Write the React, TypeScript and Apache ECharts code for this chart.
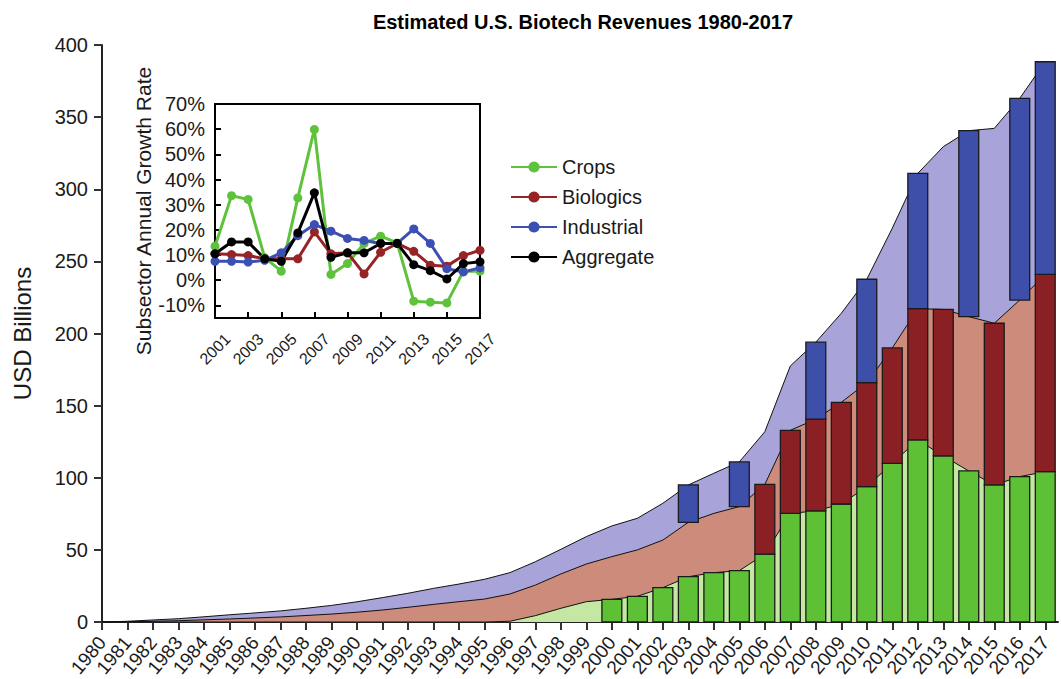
import React, { useEffect, useRef } from "react";
import * as echarts from "echarts";

// ---- Main chart data (USD billions) ----
const years = [
  1980, 1981, 1982, 1983, 1984, 1985, 1986, 1987, 1988, 1989,
  1990, 1991, 1992, 1993, 1994, 1995, 1996, 1997, 1998, 1999,
  2000, 2001, 2002, 2003, 2004, 2005, 2006, 2007, 2008, 2009,
  2010, 2011, 2012, 2013, 2014, 2015, 2016, 2017,
];
const cropsRevenue = [
  0, 0, 0, 0, 0, 0, 0, 0, 0, 0,
  0, 0, 0, 0, 0, 0, 0.5, 4.4, 9.5, 14.1,
  15.7, 17.8, 23.8, 31.4, 34.2, 35.6, 47.1, 75.3, 77.0, 81.8,
  93.8, 110.0, 126.2, 115.1, 104.7, 95.0, 100.8, 104.2,
];
const biologicsRevenue = [
  0, 0.2, 0.5, 0.9, 1.5, 2.1, 2.8, 3.5, 4.5, 5.5,
  6.8, 8.3, 10.2, 12.2, 14.1, 15.9, 18.9, 21.2, 23.8, 26.1,
  29.6, 32.2, 33.0, 37.7, 41.1, 44.4, 48.3, 57.6, 63.6, 70.5,
  72.1, 80.0, 91.0, 101.6, 107.0, 112.1, 122.4, 136.8,
];
const industrialRevenue = [
  0, 0.3, 0.9, 1.4, 2.1, 2.9, 3.5, 4.2, 5.0, 6.0,
  7.2, 8.6, 9.7, 11.1, 12.2, 13.7, 14.8, 16.2, 17.1, 19.0,
  21.3, 21.9, 25.5, 25.9, 27.8, 31.0, 36.5, 44.6, 53.4, 61.7,
  71.7, 83.0, 93.8, 112.8, 128.9, 135.1, 139.8, 147.4,
];
// years with reported (bar) values per subsector
const cropsBarYears = [
  2000, 2001, 2002, 2003, 2004, 2005, 2006, 2007, 2008,
  2009, 2010, 2011, 2012, 2013, 2014, 2015, 2016, 2017,
];
const biologicsBarYears = [2006, 2007, 2008, 2009, 2010, 2011, 2012, 2013, 2015, 2017];
const industrialBarYears = [2003, 2005, 2008, 2010, 2012, 2014, 2016, 2017];
const yTicks = [0, 50, 100, 150, 200, 250, 300, 350, 400];

// ---- Inset data (annual growth rate, %) ----
const growthYears = [
  2001, 2002, 2003, 2004, 2005, 2006, 2007, 2008, 2009,
  2010, 2011, 2012, 2013, 2014, 2015, 2016, 2017,
];
const cropsGrowth = [13.5, 33.6, 32.1, 9.0, 3.6, 32.7, 59.9, 2.3, 6.6, 14.6, 17.5, 14.8, -8.3, -8.7, -9.0, 3.6, 3.6];
const biologicsGrowth = [10.5, 10.2, 9.8, 8.5, 8.5, 8.5, 19.2, 10.5, 10.9, 2.5, 11.1, 14.6, 11.5, 6.0, 5.6, 9.8, 11.9];
const industrialGrowth = [7.5, 7.5, 7.2, 7.9, 10.9, 17.7, 22.1, 19.5, 16.6, 15.8, 14.6, 14.6, 20.4, 14.6, 4.6, 3.3, 4.9];
const aggregateGrowth = [10.5, 15.2, 15.2, 8.5, 7.5, 18.8, 34.7, 9.1, 10.9, 10.9, 14.6, 14.6, 6.2, 3.8, 0.5, 6.6, 7.3];
const insetYTicks = [-10, 0, 10, 20, 30, 40, 50, 60, 70];
const insetXTicks = [2001, 2003, 2005, 2007, 2009, 2011, 2013, 2015, 2017];

const FONT = "'Liberation Sans', Arial, Helvetica, sans-serif";
const TXT = "#1a1a1a";

export default function App() {
  const ref = useRef<HTMLDivElement>(null);

  useEffect(() => {
    if (!ref.current) return;
    const chart = echarts.init(ref.current, null, { renderer: "svg" });

    const cropsCum = cropsRevenue.slice();
    const bioCum = cropsRevenue.map((c, i) => c + biologicsRevenue[i]);
    const totCum = bioCum.map((b, i) => b + industrialRevenue[i]);
    const idx = (y: number) => years.indexOf(y);

    const areaSeries = (name: string, cum: number[], color: string) => ({
      name,
      type: "line",
      xAxisIndex: 0,
      yAxisIndex: 0,
      data: years.map((y, i) => [y, cum[i]]),
      symbol: "none",
      lineStyle: { color: "#111", width: 1 },
      areaStyle: { color, opacity: 1 },
      z: 2,
      silent: true,
    });

    const barSeries = (name: string, data: number[][], color: string) => ({
      name,
      type: "custom",
      xAxisIndex: 0,
      yAxisIndex: 0,
      data,
      encode: { x: 0, y: [1, 2] },
      z: 3,
      renderItem: (params: any, api: any) => {
        const x = api.value(0);
        const lo = api.value(1);
        const hi = api.value(2);
        const top = api.coord([x, hi]);
        const bot = api.coord([x, lo]);
        const w = api.size([1, 0])[0] * 0.78;
        return {
          type: "rect",
          shape: { x: top[0] - w / 2, y: top[1], width: w, height: bot[1] - top[1] },
          style: { fill: color, stroke: "#1a1a1a", lineWidth: 1.3 },
        };
      },
    });

    const cropsBars = cropsBarYears.map((y) => [y, 0, cropsCum[idx(y)]]);
    const bioBars = biologicsBarYears.map((y) => [y, cropsCum[idx(y)], bioCum[idx(y)]]);
    const indBars = industrialBarYears.map((y) => [y, bioCum[idx(y)], totCum[idx(y)]]);

    const growthSeries = (name: string, vals: number[], color: string) => ({
      name,
      type: "line",
      xAxisIndex: 1,
      yAxisIndex: 1,
      data: growthYears.map((y, i) => [y, vals[i]]),
      symbol: "circle",
      symbolSize: 9,
      itemStyle: { color },
      lineStyle: { color, width: 3 },
      z: 10,
    });

    chart.setOption({
      animation: false,
      backgroundColor: "#fff",
      textStyle: { fontFamily: FONT },
      title: {
        text: "Estimated U.S. Biotech Revenues 1980-2017",
        left: 578,
        top: 7,
        textAlign: "center",
        textStyle: { fontFamily: FONT, fontSize: 20, fontWeight: "bold", color: "#000" },
      },
      legend: {
        data: ["Crops", "Biologics", "Industrial", "Aggregate"],
        orient: "vertical",
        left: 505,
        top: 152,
        itemWidth: 46,
        itemHeight: 14,
        itemGap: 10,
        textStyle: { fontFamily: FONT, fontSize: 20, color: TXT },
      },
      grid: [
        { left: 102, right: 3, top: 45, bottom: 57, containLabel: false, outerBoundsMode: "none" },
        {
          left: 215,
          top: 104,
          width: 265,
          height: 214,
          show: true,
          backgroundColor: "#fff",
          borderColor: "#000",
          borderWidth: 2,
          z: 5,
          containLabel: false,
          outerBoundsMode: "none",
        },
      ],
      xAxis: [
        {
          type: "value",
          gridIndex: 0,
          min: 1980,
          max: 2017.5,
          splitLine: { show: false },
          axisLine: { show: true, onZero: false, lineStyle: { color: "#222", width: 2 } },
          axisTick: { show: true, length: 8, customValues: years, lineStyle: { color: "#333", width: 2 } },
          axisLabel: {
            customValues: years,
            rotate: 50,
            margin: 17,
            fontSize: 19,
            color: TXT,
            fontFamily: FONT,
            showMinLabel: true,
            showMaxLabel: true,
            hideOverlap: false,
            formatter: (v: number) => String(v),
          },
        },
        {
          type: "value",
          gridIndex: 1,
          min: 2001,
          max: 2017,
          splitLine: { show: false },
          axisLine: { show: true, onZero: false, lineStyle: { color: "#000", width: 2 } },
          axisTick: { show: true, inside: true, length: 6, customValues: insetXTicks, lineStyle: { color: "#000", width: 2 } },
          axisLabel: {
            customValues: insetXTicks,
            rotate: 45,
            align: "center",
            verticalAlign: "middle",
            margin: 31,
            fontSize: 16,
            color: TXT,
            fontFamily: FONT,
            showMinLabel: true,
            showMaxLabel: true,
            hideOverlap: false,
            formatter: (v: number) => String(v),
          },
          z: 6,
        },
      ],
      yAxis: [
        {
          type: "value",
          gridIndex: 0,
          min: 0,
          max: 400,
          interval: 50,
          name: "USD Billions",
          nameLocation: "middle",
          nameGap: 68,
          nameTextStyle: { fontFamily: FONT, fontSize: 24, color: TXT },
          splitLine: { show: false },
          axisLine: { show: true, lineStyle: { color: "#222", width: 2 } },
          axisTick: { show: true, length: 8, lineStyle: { color: "#333", width: 2 } },
          axisLabel: { customValues: yTicks, margin: 14, fontSize: 20, color: TXT, fontFamily: FONT },
        },
        {
          type: "value",
          gridIndex: 1,
          min: -15,
          max: 70,
          name: "Subsector Annual Growth Rate",
          nameLocation: "middle",
          nameGap: 59,
          nameTextStyle: { fontFamily: FONT, fontSize: 21, color: TXT },
          splitLine: { show: false },
          axisLine: { show: true, lineStyle: { color: "#000", width: 2 } },
          axisTick: { show: true, inside: true, length: 6, customValues: insetYTicks, lineStyle: { color: "#000", width: 2 } },
          axisLabel: {
            customValues: insetYTicks,
            margin: 10,
            fontSize: 20,
            color: TXT,
            fontFamily: FONT,
            formatter: (v: number) => v + "%",
          },
          z: 6,
        },
      ],
      series: [
        areaSeries("Total area", totCum, "#a8a4d9"),
        areaSeries("Crops+Biologics area", bioCum, "#cc8b7b"),
        areaSeries("Crops area", cropsCum, "#c4e8a3"),
        barSeries("Crops bars", cropsBars, "#5ec034"),
        barSeries("Biologics bars", bioBars, "#8b2024"),
        barSeries("Industrial bars", indBars, "#3e4faa"),
        growthSeries("Crops", cropsGrowth, "#5fc23c"),
        growthSeries("Biologics", biologicsGrowth, "#962326"),
        growthSeries("Industrial", industrialGrowth, "#3c50b4"),
        growthSeries("Aggregate", aggregateGrowth, "#000000"),
      ],
    });

    return () => chart.dispose();
  }, []);

  return (
    <div
      ref={ref}
      style={{ position: "fixed", left: 0, top: 0, width: 1061, height: 679, background: "#fff" }}
    />
  );
}
